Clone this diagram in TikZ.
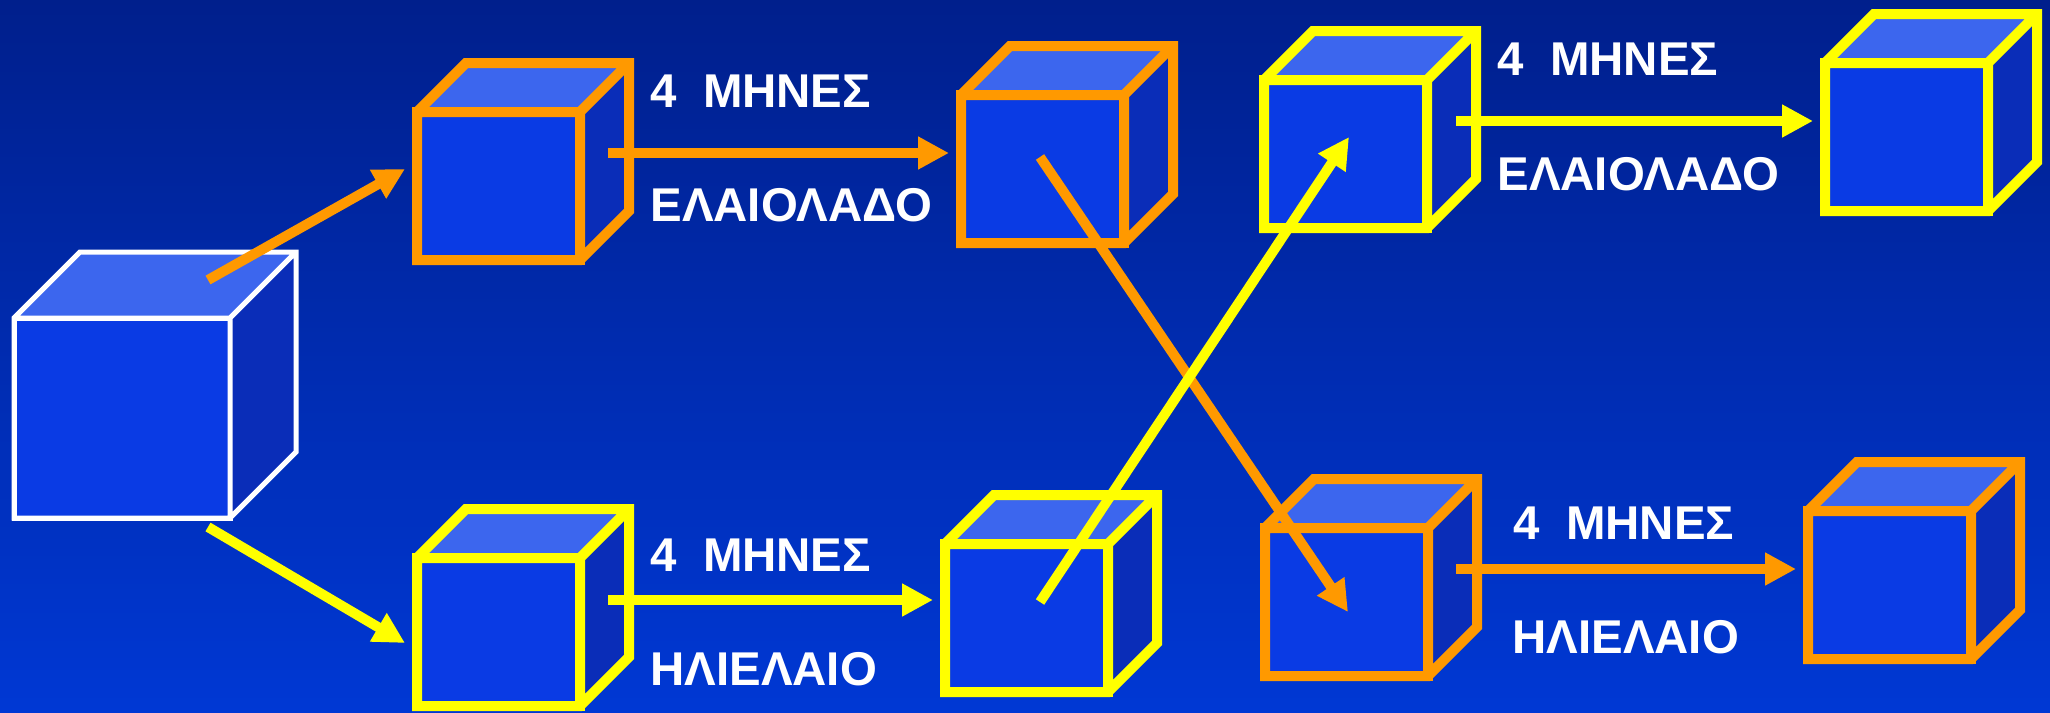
\documentclass[tikz,border=0pt]{standalone}
\usepackage{fontspec}
\setmainfont{Liberation Sans}
\usepackage{tikz}
\usetikzlibrary{arrows.meta, positioning}

\definecolor{bgtop}{HTML}{001F8C}
\definecolor{bgbottom}{HTML}{0038D4}
\definecolor{frontblue}{HTML}{0A3BE4}
\definecolor{topblue}{HTML}{3C66EE}
\definecolor{sideblue}{HTML}{0A2DB8}
\definecolor{oilorange}{HTML}{FF9900}
\definecolor{oilyellow}{HTML}{FFFF00}

\begin{document}
\begin{tikzpicture}[
    x=0.5pt, y=-0.5pt,
    front/.style={draw, rectangle, fill=frontblue, inner sep=0pt, outer sep=0pt,
      minimum width=81.5pt, minimum height=74pt, line width=5pt},
    bigfront/.style={front, draw=white, line width=2.5pt, minimum width=108pt, minimum height=100pt},
    arrow/.style={-{Triangle[length=15.5pt, width=15.5pt]}, line width=5pt},
    label/.style={anchor=base west, inner sep=0pt, text=white,
      font=\fontsize{23.7}{28}\selectfont\bfseries}
]

% Background
\fill[top color=bgtop, bottom color=bgbottom] (0,0) rectangle (2050,712);

% Cubes (front faces)
\node[bigfront] (W) at (122,418) {};
\node[front, draw=oilorange] (A) at (498.5,186) {};
\node[front, draw=oilyellow] (B) at (498.5,632) {};
\node[front, draw=oilorange] (C) at (1042.5,169) {};
\node[front, draw=oilyellow] (D) at (1026.5,618) {};
\node[front, draw=oilyellow] (E) at (1345.5,154) {};
\node[front, draw=oilyellow] (F) at (1906.5,137) {};
\node[front, draw=oilorange] (G) at (1346.5,602) {};
\node[front, draw=oilorange] (H) at (1889.5,585) {};

% Top and side faces, then the outline
\foreach \c/\col/\w/\d in {W/white/2.5pt/66, A/oilorange/5pt/49, B/oilyellow/5pt/49,
    C/oilorange/5pt/49, D/oilyellow/5pt/49, E/oilyellow/5pt/49, F/oilyellow/5pt/49,
    G/oilorange/5pt/49, H/oilorange/5pt/49} {
  \fill[topblue] (\c.north west) -- ([shift={(\d,-\d)}]\c.north west)
    -- ([shift={(\d,-\d)}]\c.north east) -- (\c.north east) -- cycle;
  \fill[sideblue] (\c.north east) -- ([shift={(\d,-\d)}]\c.north east)
    -- ([shift={(\d,-\d)}]\c.south east) -- (\c.south east) -- cycle;
  \draw[draw=\col, line width=\w] (\c.north west) -- ([shift={(\d,-\d)}]\c.north west)
    -- ([shift={(\d,-\d)}]\c.north east) -- ([shift={(\d,-\d)}]\c.south east)
    -- (\c.south east) -- (\c.south west) -- cycle
    (\c.north west) -- (\c.north east) -- (\c.south east)
    (\c.north east) -- ([shift={(\d,-\d)}]\c.north east);
}

% Arrows
\draw[arrow, oilorange] ([shift={(-22,-38)}]W.north east) -- ([shift={(-12,-17)}]A.west);
\draw[arrow, oilyellow] ([shift={(-22,9)}]W.south east) -- ([shift={(-12,11)}]B.west);
\draw[arrow, oilorange] ([shift={(28,-33)}]A.east) -- ([shift={(-12,-16)}]C.west);
\draw[arrow, oilyellow] ([shift={(28,-32)}]B.east) -- ([shift={(-12,-18)}]D.west);
\draw[arrow, oilorange] ([shift={(-2.5,-12)}]C.center) -- ([shift={(1.5,10)}]G.center);
\draw[arrow, oilyellow] ([shift={(13.5,-16)}]D.center) -- ([shift={(3.5,-17)}]E.center);
\draw[arrow, oilyellow] ([shift={(29,-33)}]E.east) -- ([shift={(-12,-16)}]F.west);
\draw[arrow, oilorange] ([shift={(28,-33)}]G.east) -- ([shift={(-12,-16)}]H.west);

% Labels
\node[label] (t1) at (650,107) {4~~ΜΗΝΕΣ};
\node[label] (t2) at (650,221) {ΕΛΑΙΟΛΑΔΟ};
\node[label] (t3) at (650,571) {4~~ΜΗΝΕΣ};
\node[label] (t4) at (650,685) {ΗΛΙΕΛΑΙΟ};
\node[label] (t5) at (1497,75) {4~~ΜΗΝΕΣ};
\node[label] (t6) at (1497,190) {ΕΛΑΙΟΛΑΔΟ};
\node[label] (t7) at (1513,539) {4~~ΜΗΝΕΣ};
\node[label] (t8) at (1512,653) {ΗΛΙΕΛΑΙΟ};

\end{tikzpicture}
\end{document}
